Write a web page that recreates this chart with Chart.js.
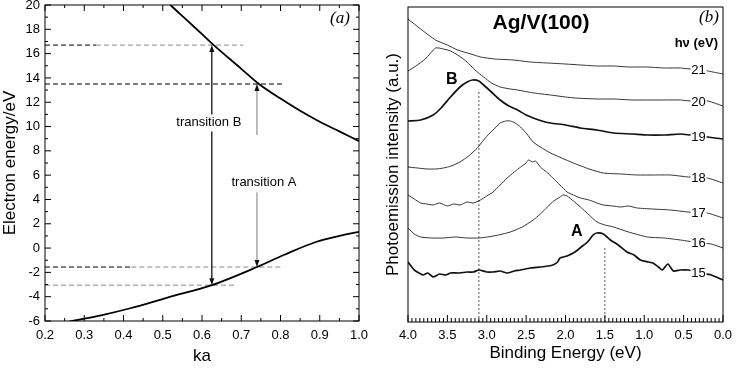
<!DOCTYPE html>
<html>
<head>
<meta charset="utf-8">
<script src="https://cdn.jsdelivr.net/npm/chart.js@4/dist/chart.umd.min.js"></script>
<style>
html, body { margin: 0; padding: 0; background: #fff; }
#wrap { position: relative; width: 748px; height: 376px; }
#panelA { position: absolute; left: 0; top: 0; }
#panelB { position: absolute; left: 372px; top: 0; }
</style>
</head>
<body>
<div id="wrap">
<canvas id="panelA" width="372" height="376"></canvas>
<canvas id="panelB" width="376" height="376"></canvas>
</div>
<script>
// ---- panel (a): free-electron bands vs ka ----
var kaUpper = [0.50, 0.52, 0.56, 0.60, 0.63, 0.70, 0.745, 0.80, 0.85, 0.90, 0.95, 1.00];
var energyUpper = [20.7, 20.0, 18.8, 17.6, 16.7, 14.75, 13.5, 12.3, 11.3, 10.4, 9.6, 8.8];
var kaLower = [0.25, 0.27, 0.34, 0.42, 0.51, 0.625, 0.74, 0.81, 0.89, 0.95, 1.00];
var energyLower = [-6.15, -6.0, -5.55, -4.93, -4.09, -3.05, -1.56, -0.55, 0.5, 1.0, 1.34];

var transitionNames = ['transition B', 'transition A'];
var transitionKa = [0.625, 0.74];
var transitionFrom = [-3.05, -1.56];
var transitionTo = [16.7, 13.5];

var guideLevels = [16.7, 13.5, -1.56, -3.05];
var guideEnds = [0.705, 0.807, 0.80, 0.687];

var kaTicks = [0.2, 0.3, 0.4, 0.5, 0.6, 0.7, 0.8, 0.9, 1.0];
var energyTicks = [-6, -4, -2, 0, 2, 4, 6, 8, 10, 12, 14, 16, 18, 20];

// ---- panel (b): Ag/V(100) spectra, one trace per photon energy ----
var photonEnergies = [21, 20, 19, 18, 17, 16, 15];

var energy21 = [4.00, 3.84, 3.65, 3.50, 3.37, 3.20, 3.08, 2.90, 2.66, 2.45, 2.23, 2.00, 1.81, 1.60, 1.39, 1.20, 0.96, 0.75, 0.54, 0.42, 0.29, 0.19, 0.00];
var counts21 = [303, 293, 282, 277, 272, 268, 265, 263, 262, 260, 259, 258, 257, 256, 256, 255, 255, 254, 254, 253, 253, 251, 248];

var energy20 = [4.00, 3.90, 3.78, 3.65, 3.55, 3.46, 3.35, 3.25, 3.15, 3.04, 2.94, 2.83, 2.70, 2.61, 2.40, 2.19, 2.00, 1.88, 1.60, 1.39, 1.15, 0.96, 0.75, 0.54, 0.42, 0.29, 0.19, 0.00];
var counts20 = [251, 256, 263, 274, 273, 271, 266, 260, 252, 245, 239, 235, 233, 232, 229, 227, 225, 224, 223, 223, 222, 222, 222, 222, 221, 221, 221, 216];

var energy19 = [4.00, 3.84, 3.68, 3.58, 3.46, 3.34, 3.25, 3.18, 3.10, 3.04, 2.94, 2.83, 2.72, 2.61, 2.50, 2.41, 2.30, 2.19, 2.00, 1.81, 1.60, 1.39, 1.15, 0.96, 0.75, 0.54, 0.42, 0.20, 0.00];
var counts19 = [201, 202, 207, 214, 225, 235, 240, 242, 241, 237, 230, 222, 216, 212, 207, 204, 201, 199, 197, 194, 192, 189, 188, 187, 187, 188, 187, 185, 183];

var energy18 = [4.00, 3.88, 3.76, 3.65, 3.55, 3.45, 3.34, 3.23, 3.12, 3.04, 2.96, 2.88, 2.83, 2.76, 2.70, 2.64, 2.57, 2.49, 2.41, 2.30, 2.19, 2.05, 1.90, 1.70, 1.52, 1.30, 1.09, 0.88, 0.67, 0.44, 0.20, 0.00];
var counts18 = [155, 154, 153, 153, 154, 156, 160, 166, 174, 182, 189, 195, 199, 201, 201, 199, 195, 188, 180, 174, 169, 164, 159, 153, 149, 148, 147, 147, 147, 145, 144, 139];

var energy17 = [4.00, 3.92, 3.84, 3.76, 3.68, 3.60, 3.50, 3.42, 3.34, 3.25, 3.17, 3.08, 3.00, 2.92, 2.83, 2.74, 2.65, 2.57, 2.50, 2.47, 2.42, 2.38, 2.32, 2.24, 2.16, 2.07, 1.98, 1.90, 1.81, 1.70, 1.60, 1.52, 1.40, 1.30, 1.20, 1.09, 0.90, 0.67, 0.44, 0.20, 0.00];
var counts17 = [127, 123, 119, 118, 117, 119, 116, 118, 117, 120, 119, 122, 126, 130, 137, 144, 150, 155, 159, 162, 160, 161, 155, 150, 144, 137, 130, 127, 124, 122, 119, 117, 116, 115, 116, 114, 113, 112, 110, 109, 104];

var energy16 = [4.00, 3.92, 3.84, 3.70, 3.55, 3.40, 3.25, 3.10, 2.99, 2.85, 2.70, 2.55, 2.41, 2.32, 2.23, 2.15, 2.07, 2.03, 1.98, 1.90, 1.81, 1.70, 1.60, 1.50, 1.39, 1.20, 0.96, 0.75, 0.54, 0.29, 0.15, 0.00];
var counts16 = [94, 88, 85, 84, 84, 85, 84, 84, 85, 87, 90, 95, 102, 108, 115, 121, 125, 127, 126, 121, 115, 107, 100, 97, 95, 90, 85, 84, 82, 79, 78, 74];

var energy15 = [4.00, 3.92, 3.81, 3.75, 3.68, 3.60, 3.52, 3.46, 3.35, 3.25, 3.17, 3.10, 3.00, 2.92, 2.83, 2.74, 2.65, 2.57, 2.45, 2.32, 2.22, 2.16, 2.10, 2.07, 1.98, 1.88, 1.80, 1.72, 1.65, 1.60, 1.52, 1.43, 1.33, 1.22, 1.13, 1.05, 0.95, 0.89, 0.82, 0.77, 0.70, 0.63, 0.54, 0.44, 0.29, 0.15, 0.00];
var counts15 = [60, 52, 47, 49, 45, 48, 47, 49, 49, 50, 50, 52, 50, 50, 51, 49, 51, 52, 54, 55, 56, 57, 60, 64, 66, 70, 75, 80, 87, 89, 88, 82, 77, 70, 67, 62, 60, 59, 55, 52, 58, 51, 52, 52, 49, 47, 42];

var spectrumEnergies = [energy21, energy20, energy19, energy18, energy17, energy16, energy15];
var spectrumCounts = [counts21, counts20, counts19, counts18, counts17, counts16, counts15];

var peakNames = ['B', 'A'];
var peakEnergies = [3.1, 1.5];
var peakMarkerTops = [232, 75];

var bindingTicks = [4.0, 3.5, 3.0, 2.5, 2.0, 1.5, 1.0, 0.5, 0.0];

var SANS = '"Liberation Sans", Arial, Helvetica, sans-serif';
var SERIF = '"Liberation Serif", "Times New Roman", serif';
Chart.defaults.font.family = SANS;
Chart.defaults.color = '#000';

function toPoints(xs, ys) {
    return xs.map(function (x, i) { return {x: x, y: ys[i]}; });
}

function lineSet(xs, ys, color, width, dash, tension) {
    return {
        data: toPoints(xs, ys),
        borderColor: color,
        borderWidth: width,
        borderDash: dash || [],
        pointRadius: 0,
        fill: false,
        tension: tension || 0
    };
}

function fixedTicks(values) {
    return function (scale) {
        scale.ticks = values.map(function (v) { return {value: v}; });
    };
}

function fixedSize(w, h) {
    return function (scale) {
        if (w !== null) scale.width = w;
        if (h !== null) scale.height = h;
        scale.paddingTop = 0;
        scale.paddingBottom = 0;
        scale.paddingLeft = 0;
        scale.paddingRight = 0;
    };
}

function interpolate(xs, ys, x) {
    for (var i = 0; i < xs.length - 1; i++) {
        var a = xs[i], b = xs[i + 1];
        if ((x - a) * (x - b) <= 0) {
            var t = (x - a) / (b - a);
            return ys[i] + t * (ys[i + 1] - ys[i]);
        }
    }
    return ys[ys.length - 1];
}

// ---------- panel (a) ----------
var setsA = [];
setsA.push(Object.assign(lineSet(kaUpper, energyUpper, '#000', 1.8), {cubicInterpolationMode: 'monotone'}));
setsA.push(Object.assign(lineSet(kaLower, energyLower, '#000', 1.8), {cubicInterpolationMode: 'monotone'}));
guideLevels.forEach(function (level, i) {
    // dashes start dark near the axis and fade to grey
    var split = i === 1 ? guideEnds[i] : (i === 3 ? 0.2 : (i === 0 ? 0.33 : 0.42));
    if (split > 0.2)
        setsA.push(lineSet([0.2, split], [level, level], '#000', 1, [5, 3]));
    if (split < guideEnds[i])
        setsA.push(lineSet([split, guideEnds[i]], [level, level], '#8a8a8a', 1, [5, 3]));
});

var panelAExtras = {
    id: 'panelAExtras',
    afterDatasetsDraw: function (chart) {
        var ctx = chart.ctx, a = chart.chartArea, sx = chart.scales.x, sy = chart.scales.y;
        ctx.save();
        ctx.strokeStyle = '#000';
        ctx.lineWidth = 1;
        ctx.strokeRect(a.left, a.top, a.right - a.left, a.bottom - a.top);
        ctx.beginPath();
        for (var k = 0; k <= 16; k++) {
            var px = sx.getPixelForValue(0.2 + k * 0.05), len = k % 2 ? 3 : 6;
            ctx.moveTo(px, a.bottom); ctx.lineTo(px, a.bottom - len);
            ctx.moveTo(px, a.top); ctx.lineTo(px, a.top + len);
        }
        for (var e = -6; e <= 20; e++) {
            var py = sy.getPixelForValue(e), l2 = e % 2 ? 3 : 6;
            ctx.moveTo(a.left, py); ctx.lineTo(a.left + l2, py);
            ctx.moveTo(a.right, py); ctx.lineTo(a.right - l2, py);
        }
        ctx.stroke();

        // transition arrows, broken where the label sits
        var gapHigh = [11.0, 9.3], gapLow = [9.6, 4.6], labelE = [10.3, 5.4], labelDx = [-3, 7];
        var shaft = ['#111', '#9a9a9a'];
        transitionKa.forEach(function (ka, i) {
            var x = sx.getPixelForValue(ka);
            var yTop = sy.getPixelForValue(transitionTo[i]);
            var yBot = sy.getPixelForValue(transitionFrom[i]);
            ctx.strokeStyle = shaft[i];
            ctx.lineWidth = 1.3;
            ctx.beginPath();
            ctx.moveTo(x, yTop + 5); ctx.lineTo(x, sy.getPixelForValue(gapHigh[i]));
            ctx.moveTo(x, sy.getPixelForValue(gapLow[i])); ctx.lineTo(x, yBot - 5);
            ctx.stroke();
            ctx.fillStyle = '#111';
            ctx.beginPath();
            ctx.moveTo(x, yTop); ctx.lineTo(x - 2.5, yTop + 7); ctx.lineTo(x + 2.5, yTop + 7); ctx.closePath();
            ctx.moveTo(x, yBot); ctx.lineTo(x - 2.5, yBot - 7); ctx.lineTo(x + 2.5, yBot - 7); ctx.closePath();
            ctx.fill();
            ctx.fillStyle = '#000';
            ctx.font = '13px ' + SANS;
            ctx.textAlign = 'center';
            ctx.textBaseline = 'middle';
            ctx.fillText(transitionNames[i], x + labelDx[i], sy.getPixelForValue(labelE[i]));
        });

        ctx.font = 'italic 17px ' + SERIF;
        ctx.textAlign = 'center';
        ctx.textBaseline = 'middle';
        ctx.fillText('(a)', a.right - 19, a.top + 14);
        ctx.restore();
    }
};

new Chart(document.getElementById('panelA'), {
    type: 'line',
    data: {datasets: setsA},
    options: {
        responsive: false,
        animation: false,
        layout: {padding: {left: 0, right: 13, top: 5, bottom: 0}},
        plugins: {legend: {display: false}, tooltip: {enabled: false}},
        scales: {
            x: {
                type: 'linear', min: 0.2, max: 1.0,
                grid: {display: false, drawTicks: false},
                border: {display: false},
                afterBuildTicks: fixedTicks(kaTicks),
                afterFit: fixedSize(null, 55),
                ticks: {padding: 7, font: {size: 13}, color: '#000', callback: function (v) { return v.toFixed(1); }},
                title: {display: true, text: 'ka', font: {size: 17}, color: '#000', padding: {top: 0, bottom: 9}}
            },
            y: {
                type: 'linear', min: -6, max: 20,
                grid: {display: false, drawTicks: false},
                border: {display: false},
                afterBuildTicks: fixedTicks(energyTicks),
                afterFit: fixedSize(45, null),
                ticks: {padding: 5, font: {size: 13}, color: '#000'},
                title: {display: true, text: 'Electron energy/eV', font: {size: 17}, color: '#000', padding: {top: 0, bottom: 0}}
            }
        }
    },
    plugins: [panelAExtras]
});

// ---------- panel (b) ----------
var setsB = [];
photonEnergies.forEach(function (hv, i) {
    var heavy = hv === 19 || hv === 15;
    setsB.push(lineSet(spectrumEnergies[i], spectrumCounts[i], heavy ? '#111' : '#333', heavy ? 1.7 : 1, null, 0.2));
});
peakEnergies.forEach(function (e, i) {
    setsB.push(lineSet([e, e], [0, peakMarkerTops[i]], '#555', 1, [2, 2]));
});

var panelBExtras = {
    id: 'panelBExtras',
    afterDatasetsDraw: function (chart) {
        var ctx = chart.ctx, a = chart.chartArea, sx = chart.scales.x, sy = chart.scales.y;
        ctx.save();
        ctx.strokeStyle = '#000';
        ctx.lineWidth = 1;
        ctx.strokeRect(a.left, a.top, a.right - a.left, a.bottom - a.top);
        ctx.beginPath();
        for (var k = 0; k <= 80; k++) {
            var px = sx.getPixelForValue(k * 0.05), len = k % 10 ? 4 : 7;
            ctx.moveTo(px, a.bottom); ctx.lineTo(px, a.bottom - len);
        }
        ctx.stroke();

        // photon-energy labels sitting on their traces
        var labelE = 0.31;
        ctx.font = '13px ' + SANS;
        ctx.textAlign = 'center';
        ctx.textBaseline = 'middle';
        photonEnergies.forEach(function (hv, i) {
            var x = sx.getPixelForValue(labelE);
            var y = sy.getPixelForValue(interpolate(spectrumEnergies[i], spectrumCounts[i], labelE)) + 1;
            ctx.fillStyle = '#fff';
            ctx.fillRect(x - 8, y - 6, 16, 12);
            ctx.fillStyle = '#000';
            ctx.fillText(String(hv), x, y);
        });

        ctx.font = 'bold 16px ' + SANS;
        var peakLabelDx = [-27, -28], peakLabelY = [80, 232];
        peakNames.forEach(function (name, i) {
            ctx.fillText(name, sx.getPixelForValue(peakEnergies[i]) + peakLabelDx[i], peakLabelY[i]);
        });

        ctx.font = 'bold 21px ' + SANS;
        ctx.fillText('Ag/V(100)', 169, 23);
        ctx.font = 'bold 13px ' + SANS;
        ctx.textAlign = 'right';
        ctx.fillText('h\u03bd (eV)', a.right - 5, 43);
        ctx.font = 'italic 17px ' + SERIF;
        ctx.textAlign = 'center';
        ctx.fillText('(b)', a.right - 14, 18);
        ctx.restore();
    }
};

new Chart(document.getElementById('panelB'), {
    type: 'line',
    data: {datasets: setsB},
    options: {
        responsive: false,
        animation: false,
        layout: {padding: {left: 0, right: 25, top: 7, bottom: 0}},
        plugins: {legend: {display: false}, tooltip: {enabled: false}},
        scales: {
            x: {
                type: 'linear', min: 0, max: 4, reverse: true,
                grid: {display: false, drawTicks: false},
                border: {display: false},
                afterBuildTicks: fixedTicks(bindingTicks),
                afterFit: fixedSize(null, 54),
                ticks: {padding: 6, font: {size: 13}, color: '#000', callback: function (v) { return v.toFixed(1); }},
                title: {display: true, text: 'Binding Energy (eV)', font: {size: 17}, color: '#000', padding: {top: 0, bottom: 12}}
            },
            y: {
                type: 'linear', min: 0, max: 315,
                grid: {display: false, drawTicks: false},
                border: {display: false},
                afterFit: fixedSize(36, null),
                ticks: {display: false},
                title: {display: true, text: 'Photoemission intensity (a.u.)', font: {size: 17}, color: '#000', padding: {top: 11, bottom: 0}}
            }
        }
    },
    plugins: [panelBExtras]
});
</script>
</body>
</html>
